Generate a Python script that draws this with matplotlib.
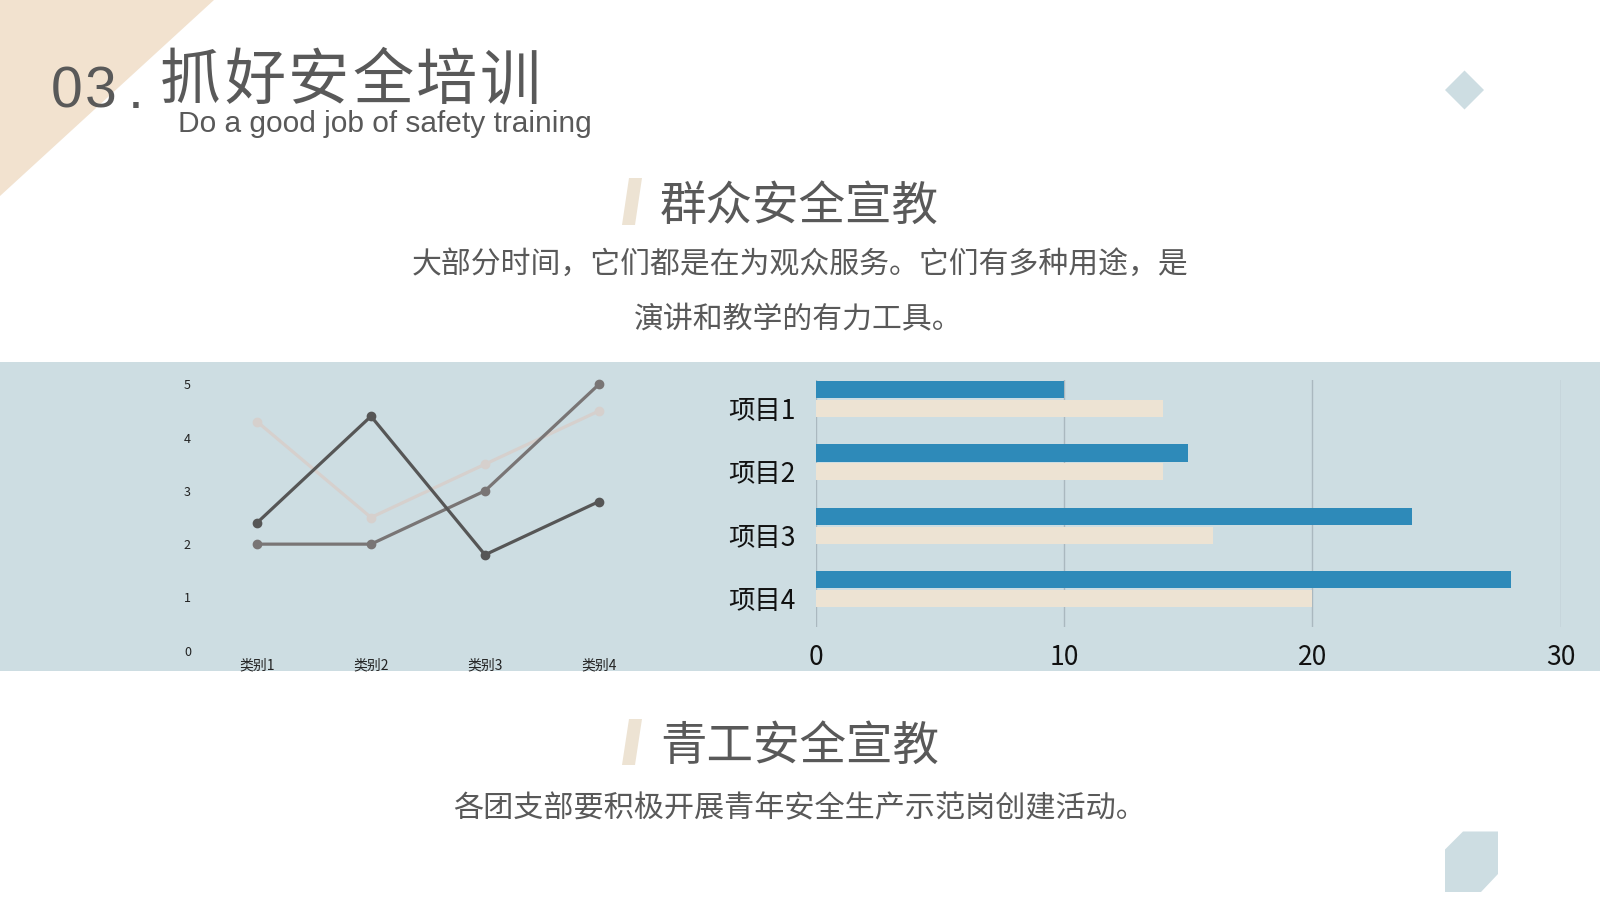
import matplotlib
matplotlib.use("Agg")
from matplotlib import pyplot as plt
from matplotlib.patches import Polygon
import numpy as np

plt.rcParams['font.family'] = ['Noto Sans CJK SC', 'DejaVu Sans']

# ### data ###
line_categories = ["类别1", "类别2", "类别3", "类别4"]
series_1 = [4.3, 2.5, 3.5, 4.5]
series_2 = [2.4, 4.4, 1.8, 2.8]
series_3 = [2.0, 2.0, 3.0, 5.0]

bar_items = ["项目1", "项目2", "项目3", "项目4"]
bar_blue = [10, 15, 24, 28]
bar_beige = [14, 14, 16, 20]

TEXT = "#595959"
BAND = "#cddde2"
BLUE = "#2e8ab9"
BEIGE = "#ede3d3"
LATIN = ["Liberation Sans", "DejaVu Sans"]

W, H = 1600, 900
fig = plt.figure(figsize=(16, 9), dpi=100)
fig.patch.set_facecolor("white")


def fx(x):
    return x / W


def fy(y):
    return 1 - y / H


def pts(coords):
    return [(fx(x), fy(y)) for x, y in coords]


def shape(coords, color):
    fig.patches.append(Polygon(pts(coords), closed=True, facecolor=color, edgecolor="none",
                               transform=fig.transFigure, zorder=-1))


# ### decoration ###
shape([(0, 0), (214, 0), (0, 196)], "#f2e2cf")
shape([(0, 362), (W, 362), (W, 671), (0, 671)], BAND)
shape([(1445, 90), (1464.5, 70.5), (1484, 90), (1464.5, 109.5)], BAND)
shape([(1445, 849.5), (1463, 831.5), (1498, 831.5), (1498, 874), (1481, 892), (1445, 892)], BAND)
for top, bottom in [(178, 225), (719, 765)]:
    shape([(622, bottom), (635, bottom), (642, top), (629, top)], BEIGE)

# ### titles ###
for ch, left in zip("03.", [51, 85, 128]):
    fig.text(fx(left), fy(108), ch, fontsize=41, color=TEXT, family=LATIN, va="baseline", ha="left")
for i, ch in enumerate("抓好安全培训"):
    fig.text(fx(160 + 64 * i), fy(82), ch, fontsize=44, color=TEXT, va="center", ha="left",
             fontweight="light")
fig.text(fx(178), fy(132), "Do a good job of safety training", fontsize=21.5, color=TEXT,
         family=LATIN, va="baseline", ha="left")

fig.text(fx(660), fy(207), "群众安全宣教", fontsize=33.5, color=TEXT, va="center", ha="left")
fig.text(fx(800), fy(264), "大部分时间，它们都是在为观众服务。它们有多种用途，是", fontsize=21.5,
         color=TEXT, va="center", ha="center")
fig.text(fx(798), fy(320), "演讲和教学的有力工具。", fontsize=21.5, color=TEXT, va="center", ha="center")

fig.text(fx(660), fy(747), "青工安全宣教", fontsize=33.5, color=TEXT, va="center", ha="left")
fig.text(fx(800), fy(809), "各团支部要积极开展青年安全生产示范岗创建活动。", fontsize=21.7,
         color=TEXT, va="center", ha="center")

# ### line chart ###
ax1 = fig.add_axes([fx(200), fy(650.7), (656 - 200) / W, (650.7 - 384.3) / H])
ax1.set_facecolor("none")
x = np.arange(len(line_categories))
for vals, color, z in [(series_1, "#d6d0cd", 2), (series_3, "#797575", 3), (series_2, "#565656", 4)]:
    ax1.plot(x, vals, color=color, lw=2.3, marker="o", markersize=6, clip_on=False, zorder=z)
ax1.set_xlim(-0.5, 3.5)
ax1.set_ylim(0, 5)
ax1.set_xticks(x)
ax1.set_xticklabels(line_categories, fontsize=10, color="#222222")
ax1.set_yticks(range(6))
ax1.set_yticklabels([str(i) for i in range(6)], fontsize=9, color="#222222")
ax1.tick_params(axis="x", length=0, pad=5.5)
ax1.tick_params(axis="y", length=0, pad=6.5)
for s in ax1.spines.values():
    s.set_visible(False)

# ### bar chart ###
ax2 = fig.add_axes([fx(816), fy(627), (1560.5 - 816) / W, (627 - 380.5) / H])
ax2.set_facecolor("none")
y = np.arange(len(bar_items))
ax2.barh(y - 0.15, bar_blue, height=0.27, color=BLUE, zorder=3)
ax2.barh(y + 0.15, bar_beige, height=0.27, color=BEIGE, zorder=3)
ax2.set_xlim(0, 30)
ax2.set_ylim(3.6, -0.295)
ax2.set_xticks([0, 10, 20, 30])
ax2.set_yticks(y + 0.15)
ax2.set_yticklabels(bar_items, fontsize=19, color="#111111")
ax2.tick_params(axis="x", labelsize=19, labelcolor="#111111", length=0, pad=12.5)
ax2.tick_params(axis="y", length=0, pad=14.5)
ax2.grid(axis="x", color="#aab8bf", lw=1, zorder=1)
for s in ax2.spines.values():
    s.set_visible(False)

fig.savefig("out.png", dpi=100, facecolor="white")
